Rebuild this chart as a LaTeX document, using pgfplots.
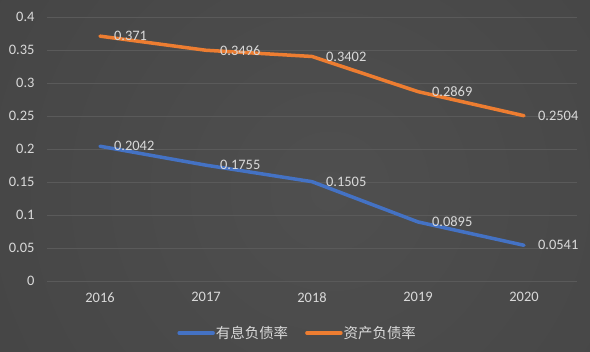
\documentclass[border=0pt]{standalone}
\usepackage{pgfplots}
\pgfplotsset{compat=1.18}
\usepackage{fontspec}
\setmainfont{Carlito}
\newfontfamily\cjk{Noto Sans CJK SC}
\definecolor{bgin}{HTML}{4F4F4F}
\definecolor{bgout}{HTML}{282828}
\definecolor{gridc}{HTML}{5A5A5A}
\definecolor{txt}{HTML}{D9D9D9}
\definecolor{sblue}{HTML}{4472C4}
\definecolor{sorange}{HTML}{ED7D31}
\pgfdeclareradialshading{bgshade}{\pgfpointorigin}{color(0bp)=(bgin); color(100bp)=(bgout)}
\begin{document}
\begin{tikzpicture}[x=1bp,y=1bp]
\begin{scope}
\clip (0,0) rectangle (590,351);
\shade[shading=bgshade] (330,160) circle (390);
\end{scope}
\useasboundingbox (0,0) rectangle (590,351);
\begin{axis}[
  at={(47bp,70bp)}, anchor=south west,
  scale only axis, width=530bp, height=264bp,
  xmin=-0.5, xmax=4.5, ymin=0, ymax=0.4,
  xtick={0,1,2,3,4}, xticklabels={2016,2017,2018,2019,2020},
  ytick={0,0.05,0.1,0.15,0.2,0.25,0.3,0.35,0.4},
  yticklabels={0,0.05,0.1,0.15,0.2,0.25,0.3,0.35,0.4},
  axis line style={draw=none}, tick style={draw=none},
  ymajorgrids, grid style={gridc, line width=0.75bp},
  /pgf/number format/assume math mode=true,
  ticklabel style={font=\fontsize{14.5}{16}\selectfont, text=txt},
  yticklabel style={xshift=-9bp},
  xticklabel style={yshift=-8bp},
  nodes near coords, point meta=explicit symbolic,
  every node near coord/.append style={anchor=west, xshift=9bp, yshift=0bp, text=txt, font=\fontsize{14.5}{16}\selectfont},
  legend image code/.code={\draw[#1, line width=3.5bp, line cap=round] (0bp,0bp) -- (34bp,0bp);},
  legend style={at={(0.472,-0.197)}, anchor=center, draw=none, fill=none, legend columns=2,
    font=\fontsize{14.5}{16}\selectfont\cjk, text=txt,
    nodes={inner sep=1bp},
    /tikz/every even column/.append style={column sep=16bp}},
]
\addplot[sblue, line width=3.5bp, line cap=round, line join=round, mark=none] coordinates {
 (0,0.2042) [0.2042] (1,0.1755) [0.1755] (2,0.1505) [0.1505] (3,0.0895) [0.0895] (4,0.0541) [0.0541]};
\addlegendentry{有息负债率}
\addplot[sorange, line width=3.5bp, line cap=round, line join=round, mark=none] coordinates {
 (0,0.371) [0.371] (1,0.3496) [0.3496] (2,0.3402) [0.3402] (3,0.2869) [0.2869] (4,0.2504) [0.2504]};
\addlegendentry{资产负债率}
\end{axis}
\end{tikzpicture}
\end{document}
